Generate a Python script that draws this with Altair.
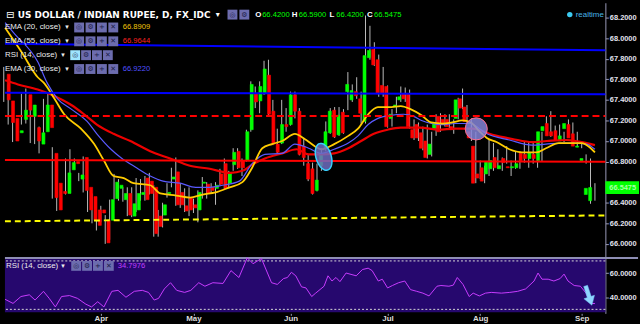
import math
import altair as alt
import numpy as np
import pandas as pd

# ---------------- data ----------------
opens = [
    67.65, 67.39, 67.22, 67.08, 67.21, 67.45, 67.24, 67.13, 66.97, 67.09,
    67.35, 66.88, 66.59, 66.51, 66.49, 66.72, 66.80, 66.63, 66.84, 66.55,
    66.46, 66.33, 66.33, 66.23, 66.23, 66.44, 66.54, 66.43, 66.49, 66.27,
    66.33, 66.48, 66.64, 66.61, 66.55, 66.27, 66.28, 66.49, 66.63, 66.70,
    66.50, 66.37, 66.45, 66.38, 66.33, 66.59, 66.58, 66.55, 66.54, 66.68,
    66.78, 66.59, 66.77, 66.90, 66.81, 66.81, 67.11, 67.46, 67.39, 67.46,
    67.64, 67.29, 66.97, 66.98, 67.16, 67.16, 67.45, 67.29, 66.95, 66.78,
    66.73, 66.52, 66.76, 66.93, 67.08, 67.30, 67.06, 67.28, 67.48, 67.40,
    67.48, 67.41, 67.19, 67.81, 67.89, 67.79, 67.54, 67.53, 67.22, 67.33,
    67.40, 67.46, 67.46, 67.11, 67.16, 67.08, 67.00, 66.87, 67.12, 67.24,
    67.21, 67.21, 67.14, 67.22, 67.41, 67.33, 67.09, 66.95, 66.68, 66.74,
    66.68, 66.73, 66.84, 66.73, 66.83, 66.75, 66.74, 66.74, 66.88, 66.87,
    66.83, 66.87, 66.81, 67.10, 67.17, 67.09, 67.10, 67.00, 67.12, 67.16,
    67.07, 66.94, 66.81, 66.48, 66.42,
]
highs = [
    67.72, 67.55, 67.33, 67.11, 67.46, 67.51, 67.37, 67.24, 67.14, 67.41,
    67.46, 66.94, 66.68, 66.55, 66.83, 66.92, 66.83, 66.69, 66.85, 66.59,
    66.49, 66.36, 66.37, 66.28, 66.43, 66.68, 66.63, 66.55, 66.55, 66.55,
    66.64, 66.63, 66.66, 66.69, 66.57, 66.33, 66.40, 66.59, 66.74, 66.84,
    66.59, 66.54, 66.55, 66.44, 66.52, 66.65, 66.60, 66.59, 66.60, 66.73,
    66.83, 66.71, 66.93, 66.93, 66.83, 67.11, 67.58, 67.53, 67.58, 67.78,
    67.79, 67.40, 67.12, 67.40, 67.32, 67.48, 67.48, 67.32, 67.03, 66.87,
    66.79, 66.78, 66.93, 67.19, 67.32, 67.33, 67.33, 67.31, 67.67, 67.55,
    67.62, 67.48, 68.22, 68.12, 67.96, 67.84, 67.72, 67.54, 67.31, 67.43,
    67.53, 67.52, 67.50, 67.21, 67.18, 67.14, 67.16, 67.09, 67.26, 67.27,
    67.26, 67.26, 67.21, 67.42, 67.51, 67.35, 67.22, 67.09, 66.81, 66.76,
    67.02, 66.98, 66.92, 66.84, 66.95, 66.81, 66.90, 66.90, 67.00, 67.00,
    67.00, 67.02, 67.09, 67.24, 67.29, 67.15, 67.16, 67.09, 67.21, 67.18,
    67.09, 67.00, 66.87, 66.83, 66.59,
]
lows = [
    67.38, 67.16, 66.99, 67.07, 67.16, 67.17, 66.98, 66.97, 66.88, 67.08,
    67.12, 66.44, 66.32, 66.40, 66.48, 66.63, 66.76, 66.61, 66.50, 66.31,
    66.20, 66.13, 66.21, 66.00, 66.04, 66.43, 66.42, 66.41, 66.27, 66.26,
    66.31, 66.42, 66.42, 66.48, 66.07, 66.07, 66.16, 66.45, 66.55, 66.37,
    66.35, 66.31, 66.27, 66.30, 66.21, 66.44, 66.44, 66.49, 66.38, 66.57,
    66.53, 66.54, 66.71, 66.73, 66.66, 66.80, 67.09, 67.32, 67.27, 67.45,
    67.25, 66.96, 66.87, 66.97, 67.09, 67.15, 67.22, 66.86, 66.76, 66.61,
    66.48, 66.51, 66.71, 66.90, 67.07, 67.03, 67.05, 67.07, 67.30, 67.38,
    67.41, 67.17, 67.17, 67.79, 67.73, 67.43, 67.43, 67.13, 67.14, 67.27,
    67.38, 67.38, 67.12, 67.01, 67.00, 66.91, 66.83, 66.85, 67.05, 67.09,
    67.14, 67.12, 67.07, 67.21, 67.31, 67.17, 67.00, 66.59, 66.63, 66.59,
    66.66, 66.71, 66.73, 66.71, 66.78, 66.66, 66.73, 66.73, 66.79, 66.74,
    66.78, 66.74, 66.80, 67.09, 67.04, 67.03, 67.00, 66.99, 67.11, 67.02,
    66.94, 66.93, 66.78, 66.39, 66.42,
]
closes = [
    67.40, 67.18, 67.00, 67.10, 67.30, 67.30, 67.35, 67.00, 67.08, 67.35,
    67.13, 66.45, 66.33, 66.49, 66.69, 66.79, 66.78, 66.67, 66.52, 66.33,
    66.23, 66.18, 66.30, 66.01, 66.43, 66.60, 66.57, 66.49, 66.28, 66.39,
    66.49, 66.50, 66.43, 66.49, 66.10, 66.17, 66.38, 66.50, 66.65, 66.38,
    66.38, 66.32, 66.33, 66.35, 66.50, 66.60, 66.49, 66.52, 66.57, 66.58,
    66.54, 66.69, 66.89, 66.74, 66.74, 67.09, 67.55, 67.38, 67.53, 67.70,
    67.26, 66.97, 66.89, 67.16, 67.14, 67.45, 67.29, 66.87, 66.84, 66.63,
    66.49, 66.62, 66.88, 67.09, 67.29, 67.04, 67.25, 67.08, 67.55, 67.49,
    67.44, 67.27, 67.83, 67.88, 67.74, 67.46, 67.46, 67.14, 67.26, 67.35,
    67.43, 67.41, 67.14, 67.03, 67.03, 66.93, 66.84, 66.97, 67.17, 67.09,
    67.17, 67.14, 67.11, 67.40, 67.32, 67.19, 67.03, 66.59, 66.64, 66.61,
    66.80, 66.81, 66.74, 66.76, 66.79, 66.74, 66.75, 66.78, 66.81, 66.83,
    66.89, 66.83, 67.09, 67.14, 67.05, 67.05, 67.01, 67.05, 67.17, 67.03,
    66.95, 66.95, 66.83, 66.54, 66.5475,
]

month_ticks = [22, 43, 65, 87, 108, 131]
month_labels = ["Apr", "May", "Jun", "Jul", "Aug", "Sep"]

ema20_idx = [0.3, 4.1, 7.7, 9.2, 11.5, 13.7, 17.5, 20.5, 22.7, 24.9,
             27.2, 29.4, 33.2, 35.5, 39.1, 42.2, 45.1, 48.0, 51.2, 54.1,
             56.3, 58.6, 60.8, 63.1, 66.0, 68.2, 70.5, 72.0, 74.9, 78.1,
             80.3, 82.6, 84.8, 87.3, 90.0, 92.2, 94.7, 96.9, 99.4, 101.6,
             103.9, 105.9, 107.9, 109.5, 111.7, 114.6, 117.5, 120.7, 122.9, 125.8,
             128.7, 131.0, 132.8, 134.0]
ema20_val = [68.10, 67.86, 67.62, 67.56, 67.41, 67.26, 67.12, 66.97, 66.81, 66.66,
             66.64, 66.59, 66.57, 66.49, 66.47, 66.45, 66.48, 66.50, 66.55, 66.60,
             66.74, 66.93, 66.97, 67.00, 67.07, 67.02, 66.95, 66.92, 66.97, 67.05,
             67.12, 67.26, 67.33, 67.33, 67.34, 67.31, 67.25, 67.18, 67.17, 67.18,
             67.20, 67.18, 67.09, 67.03, 66.99, 66.92, 66.89, 66.89, 66.93, 66.98,
             66.98, 66.98, 66.94, 66.89]

ema30_idx = [0.3, 2.5, 7.7, 9.9, 12.2, 15.3, 18.9, 21.1, 24.3, 26.5,
             30.1, 33.2, 36.1, 40.0, 43.5, 46.7, 49.6, 53.4, 56.3, 59.2,
             63.1, 66.0, 69.1, 72.0, 74.9, 78.1, 80.3, 82.6, 84.8, 87.7,
             90.6, 92.9, 94.7, 99.2, 102.3, 105.7, 109.5, 114.6, 119.8, 122.9,
             126.5, 129.6, 132.1, 134.0]
ema30_val = [68.15, 68.04, 67.77, 67.56, 67.41, 67.31, 67.19, 67.07, 66.92, 66.84,
             66.74, 66.66, 66.61, 66.59, 66.55, 66.55, 66.57, 66.61, 66.78, 66.87,
             66.88, 66.97, 66.93, 66.88, 66.92, 66.98, 67.05, 67.16, 67.22, 67.25,
             67.26, 67.24, 67.20, 67.16, 67.17, 67.17, 67.07, 67.01, 66.96, 66.97,
             66.98, 66.98, 66.97, 66.92]

ema55_idx = [0.3, 3.2, 7.7, 10.8, 15.3, 18.2, 21.1, 24.9, 28.7, 33.2,
             37.7, 42.2, 46.7, 51.4, 54.1, 56.3, 59.2, 63.1, 66.4, 69.1,
             72.0, 74.9, 78.1, 81.0, 83.9, 87.0, 90.0, 94.4, 98.5, 102.3,
             106.3, 110.8, 115.3, 119.8, 123.1, 127.6, 132.1, 134.0]
ema55_val = [67.59, 67.55, 67.50, 67.45, 67.35, 67.26, 67.16, 67.07, 67.00, 66.90,
             66.83, 66.76, 66.73, 66.69, 66.71, 66.77, 66.83, 66.88, 66.92, 66.87,
             66.87, 66.88, 66.93, 67.00, 67.07, 67.11, 67.13, 67.13, 67.11, 67.12,
             67.12, 67.06, 67.02, 66.99, 67.00, 67.01, 66.98, 66.96]

rsi_idx = [0.3, 2.1, 3.9, 5.8, 7.1, 9.0, 10.3, 11.7, 13.1, 14.9,
           16.7, 18.6, 19.9, 21.3, 22.7, 24.5, 25.9, 27.7, 29.6, 31.4,
           32.8, 34.1, 35.1, 36.4, 37.8, 39.2, 41.0, 42.4, 44.2, 45.6,
           47.4, 49.7, 51.5, 53.3, 55.2, 56.5, 58.4, 60.7, 62.0, 63.4,
           64.3, 65.2, 66.2, 67.5, 68.5, 69.8, 70.7, 72.6, 73.5, 74.4,
           75.3, 76.2, 77.6, 79.9, 81.3, 82.6, 83.5, 84.9, 85.8, 87.0,
           88.1, 89.5, 90.9, 92.2, 93.6, 95.0, 96.4, 98.2, 99.1, 100.9,
           101.9, 102.8, 104.1, 105.5, 106.4, 107.8, 109.2, 110.5, 112.8, 114.7,
           116.5, 118.3, 120.2, 121.1, 122.0, 123.4, 124.7, 126.1, 127.0, 127.9,
           129.3, 130.7, 132.0, 133.0, 134.0]
rsi_val = [38.3, 34.9, 40.6, 42.0, 37.7, 44.9, 39.1, 32.0, 40.6, 41.4,
           39.1, 34.3, 32.0, 36.3, 32.0, 44.9, 45.7, 40.0, 44.9, 45.7,
           44.0, 37.7, 39.1, 46.9, 52.0, 45.7, 44.0, 45.7, 52.0, 49.1,
           52.0, 51.4, 62.0, 56.3, 72.6, 67.7, 72.0, 52.0, 50.6, 55.4,
           56.3, 60.6, 57.7, 48.6, 47.7, 40.6, 43.4, 49.1, 57.7, 53.4,
           56.3, 52.9, 60.0, 57.7, 62.9, 64.0, 62.0, 53.4, 54.9, 47.7,
           49.7, 52.0, 53.4, 46.3, 44.9, 43.4, 41.1, 49.1, 49.7, 49.1,
           50.0, 56.3, 50.6, 40.6, 43.4, 41.1, 43.4, 44.0, 43.4, 44.0,
           44.9, 46.9, 53.4, 60.0, 54.9, 54.9, 53.4, 55.4, 59.1, 53.4,
           49.7, 49.1, 43.4, 34.9, 34.8]

# drawn levels (price at left edge, price at right edge)
level_blue_hi = [67.945, 67.883]
level_blue_lo = [67.470, 67.455]
level_red = [66.815, 66.798]
level_red_dash = [67.243, 67.243]
level_yellow_dash = [66.219, 66.277]

ema_last = {"20": 66.8909, "55": 66.9644, "30": 66.9220}
rsi_last = 34.7976
rsi_bands = [70, 30]

# highlight annotations (index, price)
ellipse_pos = [72.5, 66.846]
circle_pos = [107.1, 67.118]
arrow_pos = [132.6, 41.4]

# ---------------- layout / scales ----------------
X_LO, X_HI = 0.27, 136.37
PLOT_W, MAIN_H, RSI_H = 607, 258, 56
Y_TOP = 68.344
Y_BOT = Y_TOP - MAIN_H / 104.0
RSI_TOP, RSI_BOT = 72.45, 26.7
FONT = "Liberation Sans"
GREEN, RED = "#00ff00", "#ff0000"

n = len(opens)
df = pd.DataFrame({"i": list(range(n)), "open": opens, "high": highs,
                   "low": lows, "close": closes})
df["dir"] = np.where(df["close"] >= df["open"], "up", "down")

xs = alt.Scale(domain=[X_LO, X_HI], nice=False, zero=False)
ys = alt.Scale(domain=[Y_BOT, Y_TOP], nice=False, zero=False)
rs = alt.Scale(domain=[RSI_BOT, RSI_TOP], nice=False, zero=False)
dir_scale = alt.Scale(domain=["up", "down"], range=[GREEN, RED])

# the 66.6 label sits under the last-price tag in the reference
price_ticks = [round(66.0 + 0.2 * k, 1) for k in range(12) if k != 3]
yaxis = alt.Axis(orient="right", values=price_ticks, format=".4f", grid=False,
                 labelColor="#e2e2ee", labelFontSize=7.5, labelFont=FONT,
                 labelFontWeight="bold", tickColor="#9a9ab8", tickSize=3,
                 labelPadding=1, domainColor="#9a9ab8", title=None, zindex=0)

xq = alt.X("i:Q", scale=xs, axis=None)

wicks = alt.Chart(df).mark_rule(color="#bcbcbc", strokeWidth=1).encode(
    x=xq, y=alt.Y("low:Q", scale=ys, axis=yaxis), y2="high:Q")
bodies = alt.Chart(df).mark_bar(size=3, strokeWidth=0.6).encode(
    x=xq, y=alt.Y("open:Q", scale=ys, axis=None), y2="close:Q",
    color=alt.Color("dir:N", scale=dir_scale, legend=None),
    stroke=alt.Stroke("dir:N", scale=dir_scale, legend=None))


def ema_layer(idx, val, color, width):
    d = pd.DataFrame({"i": idx, "v": val})
    return alt.Chart(d).mark_line(color=color, strokeWidth=width, interpolate="monotone").encode(
        x=alt.X("i:Q", scale=xs, axis=None), y=alt.Y("v:Q", scale=ys, axis=None))


ema55 = ema_layer(ema55_idx, ema55_val, "#ee0000", 2.2)
ema30 = ema_layer(ema30_idx, ema30_val, "#5a5aff", 1.2)
ema20 = ema_layer(ema20_idx, ema20_val, "#ffcc00", 1.8)


def level_layer(lv, color, dash=None):
    d = pd.DataFrame({"x1": [X_LO], "x2": [X_HI], "p1": [lv[0]], "p2": [lv[1]]})
    kw = dict(color=color, strokeWidth=2)
    if dash:
        kw["strokeDash"] = dash
    return alt.Chart(d).mark_rule(**kw).encode(
        x=alt.X("x1:Q", scale=xs, axis=None), x2="x2:Q",
        y=alt.Y("p1:Q", scale=ys, axis=None), y2="p2:Q")


levels = [level_layer(level_blue_hi, "#0000ff"), level_layer(level_blue_lo, "#0000ff"),
          level_layer(level_red, "#ff0000"), level_layer(level_red_dash, "#ff0000", [7, 4]),
          level_layer(level_yellow_dash, "#ffff00", [6, 4])]


def poly_path(pts, rot_deg):
    r = math.radians(rot_deg)
    out = []
    for x0, y0 in pts:
        out.append((x0 * math.cos(r) - y0 * math.sin(r), x0 * math.sin(r) + y0 * math.cos(r)))
    return "M" + " L".join(f"{x:.3f},{y:.3f}" for x, y in out) + " Z"


ell_pts = [(0.55 * math.cos(2 * math.pi * k / 48), math.sin(2 * math.pi * k / 48)) for k in range(48)]
ellipse_shape = poly_path(ell_pts, -17)
arrow_pts = [(-0.2, -1), (0.2, -1), (0.2, 0.15), (0.55, 0.15), (0, 1), (-0.55, 0.15), (-0.2, 0.15)]
arrow_shape = poly_path(arrow_pts, -18)

ell = alt.Chart(pd.DataFrame({"i": [ellipse_pos[0]], "p": [ellipse_pos[1]]})).mark_point(
    shape=ellipse_shape, size=784, fill="#6c6cc0", fillOpacity=0.85, stroke="#38d0ff",
    strokeWidth=1.5, opacity=1).encode(
    x=alt.X("i:Q", scale=xs, axis=None), y=alt.Y("p:Q", scale=ys, axis=None))
circ = alt.Chart(pd.DataFrame({"i": [circle_pos[0]], "p": [circle_pos[1]]})).mark_point(
    shape="circle", size=500, fill="#8484d8", fillOpacity=0.85, stroke="#ff6c90",
    strokeWidth=1, opacity=1).encode(
    x=alt.X("i:Q", scale=xs, axis=None), y=alt.Y("p:Q", scale=ys, axis=None))

# last price tag on the price axis
tag = pd.DataFrame({"p": [closes[-1]], "t": [f"{closes[-1]:.4f}"]})
tag["p1"] = tag["p"] + 0.062
tag["p2"] = tag["p"] - 0.062
tag_box = alt.Chart(tag).mark_rect(color="#00ff00").encode(
    x=alt.value(607), x2=alt.value(641), y=alt.Y("p1:Q", scale=ys, axis=None), y2="p2:Q")
tag_txt = alt.Chart(tag).mark_text(font=FONT, fontSize=7.5, fontWeight="bold", color="#a8ffa8",
                                   align="left", baseline="middle").encode(
    x=alt.value(611), y=alt.Y("p:Q", scale=ys, axis=None), text="t:N")

# legend texts (pixel layout)
W_TXT = "#ececec"
last = n - 1
texts = [
    (1, 12, "⊟", "#ffffff", 10, "normal", "DejaVu Sans"),
    (13, 12, "US DOLLAR / INDIAN RUPEE, D, FX_IDC", "#ffffff", 9, "bold", "DejaVu Sans"),
    (213, 12, "▾", "#ffffff", 8, "normal", "DejaVu Sans"),
    (253, 12, "O", "#ffffff", 8, "bold", FONT), (260, 12, f"{opens[last]:.4f}", GREEN, 7.7, "normal", FONT),
    (290, 12, "H", "#ffffff", 8, "bold", FONT), (297, 12, f"{highs[last]:.4f}", GREEN, 7.7, "normal", FONT),
    (328, 12, "L", "#ffffff", 8, "bold", FONT), (335, 12, f"{lows[last]:.4f}", GREEN, 7.7, "normal", FONT),
    (366, 12, "C", "#ffffff", 8, "bold", FONT), (373, 12, f"{closes[last]:.4f}", GREEN, 7.7, "normal", FONT),
    (0, 25, "EMA (20, close)", W_TXT, 8, "normal", FONT), (61, 25, "▾", W_TXT, 7, "normal", "DejaVu Sans"),
    (119, 25, f"{ema_last['20']:.4f}", "#f2c40a", 7.7, "normal", FONT),
    (0, 39, "EMA (55, close)", W_TXT, 8, "normal", FONT), (61, 39, "▾", W_TXT, 7, "normal", "DejaVu Sans"),
    (119, 39, f"{ema_last['55']:.4f}", "#ff2020", 7.7, "normal", FONT),
    (0, 53, "RSI (14, close)", W_TXT, 8, "normal", FONT), (57, 53, "▾", W_TXT, 7, "normal", "DejaVu Sans"),
    (0, 67, "EMA (30, close)", W_TXT, 8, "normal", FONT), (61, 67, "▾", W_TXT, 7, "normal", "DejaVu Sans"),
    (119, 67, f"{ema_last['30']:.4f}", "#5050ff", 7.7, "normal", FONT),
    (577, 12, "realtime", "#48b6e6", 8, "normal", FONT),
]
tdf = pd.DataFrame(texts, columns=["x", "y", "t", "c", "s", "w", "f"])

text_layers = []
for (w, f), g in tdf.groupby(["w", "f"]):
    text_layers.append(alt.Chart(g).mark_text(align="left", baseline="middle", fontWeight=w, font=f).encode(
        x=alt.X("x:Q", scale=None, axis=None), y=alt.Y("y:Q", scale=None, axis=None),
        text="t:N", color=alt.Color("c:N", scale=None), size=alt.Size("s:Q", scale=None)))

glyphs = ["◎", "⚙", "+", "✕"]
boxes = []
for k, g in enumerate(glyphs[:2]):
    boxes.append((225 + 12 * k, 12, g, "#6c6cae"))
for ry in (25, 39, 67):
    for k, g in enumerate(glyphs):
        boxes.append((70 + 11.5 * k, ry, g, "#6c6cae"))
for k, g in enumerate(glyphs):
    boxes.append((66 + 11 * k, 53, g, "#9fe6ff" if k == 0 else "#6c6cae"))
bdf = pd.DataFrame(boxes, columns=["x", "y", "g", "c"])
bdf["x2"] = bdf["x"] + 10
bdf["y1"] = bdf["y"] - 5
bdf["y2"] = bdf["y"] + 5
bdf["xc"] = bdf["x"] + 5

box_rect = alt.Chart(bdf).mark_rect().encode(
    x=alt.X("x:Q", scale=None, axis=None), x2="x2:Q",
    y=alt.Y("y1:Q", scale=None, axis=None), y2="y2:Q", color=alt.Color("c:N", scale=None))
box_txt = alt.Chart(bdf).mark_text(font="DejaVu Sans", fontSize=7, color="#1c1c48",
                                   align="center", baseline="middle").encode(
    x=alt.X("xc:Q", scale=None, axis=None), y=alt.Y("y:Q", scale=None, axis=None), text="g:N")

dot = alt.Chart(pd.DataFrame({"a": [0]})).mark_circle(size=30, color="#3ccaf0", opacity=1).encode(
    x=alt.value(571), y=alt.value(12))

main = alt.layer(wicks, bodies, ema55, ema30, ema20, *levels, ell, circ, tag_box, tag_txt,
                 box_rect, box_txt, dot, *text_layers).resolve_scale(
    x="independent", y="independent").properties(width=PLOT_W, height=MAIN_H)

# ---------------- RSI panel ----------------
label_expr = " : ".join(f"datum.value == {t} ? '{l}'" for t, l in zip(month_ticks, month_labels)) + " : ''"
xaxis = alt.Axis(orient="bottom", values=month_ticks, labelExpr=label_expr, grid=False,
                 labelColor="#dcdcdc", labelFontSize=8, labelFont=FONT, labelFontWeight="bold",
                 tickColor="#9a9ab8", tickSize=2, labelPadding=-1, domain=False, title=None)
rsi_axis = alt.Axis(orient="right", values=[40, 60], format=".4f", grid=False,
                    labelColor="#e2e2ee", labelFontSize=7.5, labelFont=FONT, labelFontWeight="bold",
                    tickColor="#9a9ab8", tickSize=3, labelPadding=1, domainColor="#9a9ab8", title=None)

one = pd.DataFrame({"a": [0]})
rsi_bg = alt.Chart(one).mark_rect(color="#26086e").encode(
    x=alt.value(0), x2=alt.value(PLOT_W), y=alt.value(1), y2=alt.value(RSI_H - 1))
sep = alt.Chart(one).mark_rule(color="#8e8eb4", strokeWidth=2).encode(
    x=alt.value(0), x2=alt.value(640), y=alt.value(0))
bands = alt.Chart(pd.DataFrame({"v": rsi_bands})).mark_rule(
    color="#d8d8d8", strokeDash=[2, 2], strokeWidth=1).encode(y=alt.Y("v:Q", scale=rs, axis=None))
rsi_df = pd.DataFrame({"i": rsi_idx, "v": rsi_val})
rsi_line = alt.Chart(rsi_df).mark_line(color="#c83cff", strokeWidth=1).encode(
    x=alt.X("i:Q", scale=xs, axis=xaxis), y=alt.Y("v:Q", scale=rs, axis=rsi_axis))
arrow = alt.Chart(pd.DataFrame({"i": [arrow_pos[0]], "v": [arrow_pos[1]]})).mark_point(
    shape=arrow_shape, size=420, fill="#8fd6ff", stroke="#6ec0f0", strokeWidth=0.5, opacity=1).encode(
    x=alt.X("i:Q", scale=xs, axis=None), y=alt.Y("v:Q", scale=rs, axis=None))

rtexts = pd.DataFrame([
    (1, 8, "RSI (14, close)", W_TXT, 8, FONT),
    (57, 8, "▾", W_TXT, 7, "DejaVu Sans"),
    (114, 8, f"{rsi_last:.4f}", "#c040ff", 7.7, FONT),
], columns=["x", "y", "t", "c", "s", "f"])
rtext_layers = []
for f, g in rtexts.groupby("f"):
    rtext_layers.append(alt.Chart(g).mark_text(align="left", baseline="middle", font=f).encode(
        x=alt.X("x:Q", scale=None, axis=None), y=alt.Y("y:Q", scale=None, axis=None),
        text="t:N", color=alt.Color("c:N", scale=None), size=alt.Size("s:Q", scale=None)))
rb = pd.DataFrame([(67 + 11 * k, g) for k, g in enumerate(glyphs)], columns=["x", "g"])
rb["x2"] = rb["x"] + 10
rb["xc"] = rb["x"] + 5
rb["y1"], rb["y2"], rb["y"] = 3, 13, 8
rbox = alt.Chart(rb).mark_rect(color="#6c6cae").encode(
    x=alt.X("x:Q", scale=None, axis=None), x2="x2:Q",
    y=alt.Y("y1:Q", scale=None, axis=None), y2="y2:Q")
rbox_t = alt.Chart(rb).mark_text(font="DejaVu Sans", fontSize=7, color="#1c1c48",
                                 align="center", baseline="middle").encode(
    x=alt.X("xc:Q", scale=None, axis=None), y=alt.Y("y:Q", scale=None, axis=None), text="g:N")

rsi = alt.layer(rsi_bg, sep, bands, rsi_line, arrow, rbox, rbox_t, *rtext_layers).resolve_scale(
    x="independent", y="independent").properties(width=PLOT_W, height=RSI_H)

chart = alt.vconcat(main, rsi, spacing=0, bounds="flush").properties(
    padding=0, background="#000000").configure_view(stroke="transparent")

chart.save("out.html", embed_options={"renderer": "svg", "actions": False})
